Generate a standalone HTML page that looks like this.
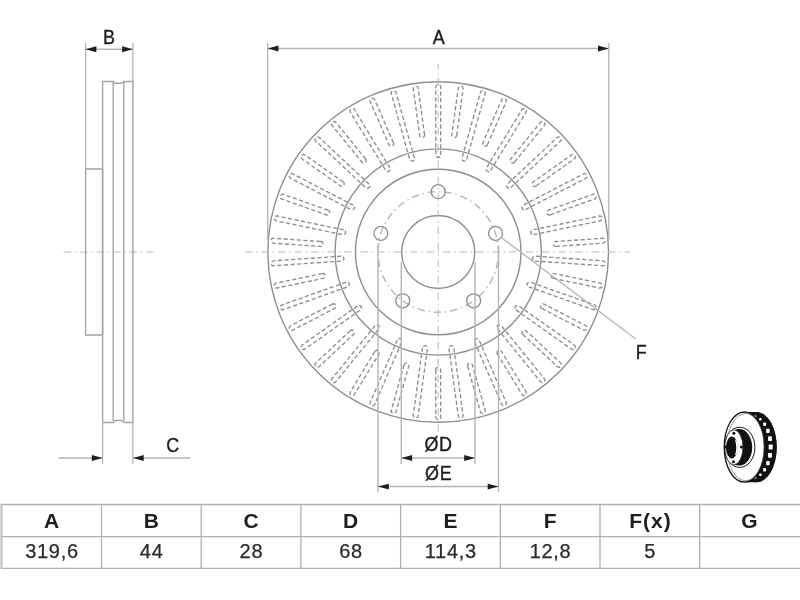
<!DOCTYPE html>
<html><head><meta charset="utf-8"><style>
html,body{margin:0;padding:0;background:#fff;width:800px;height:600px;overflow:hidden}
#w{position:absolute;left:0;top:0;width:800px;height:600px}
svg{position:absolute;left:0;top:0;will-change:transform}
svg text{font-family:"Liberation Sans",sans-serif;fill:#1e1e1e;stroke:#1e1e1e;stroke-width:0.35px}
svg text.th{font-size:21px;font-weight:bold;letter-spacing:1px;text-anchor:middle;stroke-width:0}
svg text.tv{font-size:20px;letter-spacing:0.7px;text-anchor:middle;stroke-width:0.25px;stroke:#2a2a2a;fill:#2a2a2a}
</style></head><body><div id="w">
<svg width="800" height="600" viewBox="0 0 800 600">
<path d="M440.65 155.05L440.65 86.95A2.45 2.45 0 0 0 435.75 86.95L435.75 155.05A2.45 2.45 0 0 0 440.65 155.05ZM456.69 135.48L463.1 88.82A2.45 2.45 0 0 0 458.25 88.15L451.83 134.81A2.45 2.45 0 0 0 456.69 135.48ZM466.72 159.31L485.09 93.73A2.45 2.45 0 0 0 480.37 92.41L462 157.98A2.45 2.45 0 0 0 466.72 159.31ZM487.44 144.79L506.2 101.59A2.45 2.45 0 0 0 501.71 99.64L482.94 142.84A2.45 2.45 0 0 0 487.44 144.79ZM490.67 170.44L526.05 112.25A2.45 2.45 0 0 0 521.86 109.71L486.48 167.89A2.45 2.45 0 0 0 490.67 170.44ZM514.54 162.05L544.26 125.52A2.45 2.45 0 0 0 540.46 122.42L510.74 158.96A2.45 2.45 0 0 0 514.54 162.05ZM510.73 187.62L560.5 141.14A2.45 2.45 0 0 0 557.15 137.55L507.38 184.04A2.45 2.45 0 0 0 510.73 187.62ZM535.97 185.98L574.45 158.82A2.45 2.45 0 0 0 571.63 154.82L533.15 181.98A2.45 2.45 0 0 0 535.97 185.98ZM525.41 209.57L585.87 178.24A2.45 2.45 0 0 0 583.62 173.89L523.15 205.22A2.45 2.45 0 0 0 525.41 209.57ZM550.16 214.81L594.54 199.04A2.45 2.45 0 0 0 592.9 194.42L548.52 210.19A2.45 2.45 0 0 0 550.16 214.81ZM533.62 234.67L600.3 220.82A2.45 2.45 0 0 0 599.3 216.02L532.62 229.88A2.45 2.45 0 0 0 533.62 234.67ZM556.04 246.4L603.03 243.18A2.45 2.45 0 0 0 602.7 238.29L555.71 241.51A2.45 2.45 0 0 0 556.04 246.4ZM534.76 261.06L602.7 265.71A2.45 2.45 0 0 0 603.03 260.82L535.09 256.17A2.45 2.45 0 0 0 534.76 261.06ZM553.18 278.4L599.3 287.98A2.45 2.45 0 0 0 600.3 283.18L554.18 273.6A2.45 2.45 0 0 0 553.18 278.4ZM528.73 286.78L592.9 309.58A2.45 2.45 0 0 0 594.54 304.96L530.37 282.16A2.45 2.45 0 0 0 528.73 286.78ZM541.8 308.44L583.62 330.11A2.45 2.45 0 0 0 585.87 325.76L544.05 304.09A2.45 2.45 0 0 0 541.8 308.44ZM515.99 309.91L571.63 349.18A2.45 2.45 0 0 0 574.45 345.18L518.82 305.91A2.45 2.45 0 0 0 515.99 309.91ZM522.73 334.3L557.15 366.45A2.45 2.45 0 0 0 560.5 362.86L526.07 330.72A2.45 2.45 0 0 0 522.73 334.3ZM497.48 328.75L540.46 381.58A2.45 2.45 0 0 0 544.26 378.48L501.28 325.66A2.45 2.45 0 0 0 497.48 328.75ZM497.39 354.05L521.86 394.29A2.45 2.45 0 0 0 526.05 391.75L501.58 351.51A2.45 2.45 0 0 0 497.39 354.05ZM474.58 341.9L501.71 404.36A2.45 2.45 0 0 0 506.2 402.41L479.07 339.95A2.45 2.45 0 0 0 474.58 341.9ZM467.66 366.24L480.37 411.59A2.45 2.45 0 0 0 485.09 410.27L472.38 364.92A2.45 2.45 0 0 0 467.66 366.24ZM448.97 348.38L458.25 415.85A2.45 2.45 0 0 0 463.1 415.18L453.83 347.71A2.45 2.45 0 0 0 448.97 348.38ZM435.75 369.95L435.75 417.05A2.45 2.45 0 0 0 440.65 417.05L440.65 369.95A2.45 2.45 0 0 0 435.75 369.95ZM422.57 347.71L413.3 415.18A2.45 2.45 0 0 0 418.15 415.85L427.43 348.38A2.45 2.45 0 0 0 422.57 347.71ZM404.02 364.92L391.31 410.27A2.45 2.45 0 0 0 396.03 411.59L408.74 366.24A2.45 2.45 0 0 0 404.02 364.92ZM397.33 339.95L370.2 402.41A2.45 2.45 0 0 0 374.69 404.36L401.82 341.9A2.45 2.45 0 0 0 397.33 339.95ZM374.82 351.51L350.35 391.75A2.45 2.45 0 0 0 354.54 394.29L379.01 354.05A2.45 2.45 0 0 0 374.82 351.51ZM375.12 325.66L332.14 378.48A2.45 2.45 0 0 0 335.94 381.58L378.92 328.75A2.45 2.45 0 0 0 375.12 325.66ZM350.33 330.72L315.9 362.86A2.45 2.45 0 0 0 319.25 366.45L353.67 334.3A2.45 2.45 0 0 0 350.33 330.72ZM357.58 305.91L301.95 345.18A2.45 2.45 0 0 0 304.77 349.18L360.41 309.91A2.45 2.45 0 0 0 357.58 305.91ZM332.35 304.09L290.53 325.76A2.45 2.45 0 0 0 292.78 330.11L334.6 308.44A2.45 2.45 0 0 0 332.35 304.09ZM346.03 282.16L281.86 304.96A2.45 2.45 0 0 0 283.5 309.58L347.67 286.78A2.45 2.45 0 0 0 346.03 282.16ZM322.22 273.6L276.1 283.18A2.45 2.45 0 0 0 277.1 287.98L323.22 278.4A2.45 2.45 0 0 0 322.22 273.6ZM341.31 256.17L273.37 260.82A2.45 2.45 0 0 0 273.7 265.71L341.64 261.06A2.45 2.45 0 0 0 341.31 256.17ZM320.69 241.51L273.7 238.29A2.45 2.45 0 0 0 273.37 243.18L320.36 246.4A2.45 2.45 0 0 0 320.69 241.51ZM343.78 229.88L277.1 216.02A2.45 2.45 0 0 0 276.1 220.82L342.78 234.67A2.45 2.45 0 0 0 343.78 229.88ZM327.88 210.19L283.5 194.42A2.45 2.45 0 0 0 281.86 199.04L326.24 214.81A2.45 2.45 0 0 0 327.88 210.19ZM353.25 205.22L292.78 173.89A2.45 2.45 0 0 0 290.53 178.24L350.99 209.57A2.45 2.45 0 0 0 353.25 205.22ZM343.25 181.98L304.77 154.82A2.45 2.45 0 0 0 301.95 158.82L340.43 185.98A2.45 2.45 0 0 0 343.25 181.98ZM369.02 184.04L319.25 137.55A2.45 2.45 0 0 0 315.9 141.14L365.67 187.62A2.45 2.45 0 0 0 369.02 184.04ZM365.66 158.96L335.94 122.42A2.45 2.45 0 0 0 332.14 125.52L361.86 162.05A2.45 2.45 0 0 0 365.66 158.96ZM389.92 167.89L354.54 109.71A2.45 2.45 0 0 0 350.35 112.25L385.73 170.44A2.45 2.45 0 0 0 389.92 167.89ZM393.46 142.84L374.69 99.64A2.45 2.45 0 0 0 370.2 101.59L388.96 144.79A2.45 2.45 0 0 0 393.46 142.84ZM414.4 157.98L396.03 92.41A2.45 2.45 0 0 0 391.31 93.73L409.68 159.31A2.45 2.45 0 0 0 414.4 157.98ZM424.57 134.81L418.15 88.15A2.45 2.45 0 0 0 413.3 88.82L419.71 135.48A2.45 2.45 0 0 0 424.57 134.81Z" fill="none" stroke="#8e8e8e" stroke-width="1.35" stroke-dasharray="4.2 2.4"/>
<circle cx="438.2" cy="252" r="170.3" fill="none" stroke="#8e8e8e" stroke-width="1.4"/>
<circle cx="438.2" cy="252" r="103.1" fill="none" stroke="#8e8e8e" stroke-width="1.4"/>
<circle cx="438.2" cy="252" r="82.8" fill="none" stroke="#8e8e8e" stroke-width="1.4"/>
<circle cx="438.2" cy="252" r="36.5" fill="none" stroke="#8e8e8e" stroke-width="1.4"/>
<circle cx="438.2" cy="252" r="60.3" fill="none" stroke="#b8b8b8" stroke-width="1.5" stroke-dasharray="7.5 3.75 1.5 3.75" stroke-dashoffset="7.3"/>
<circle cx="438.2" cy="191.7" r="7" fill="none" stroke="#8e8e8e" stroke-width="1.3"/>
<circle cx="495.55" cy="233.37" r="7" fill="none" stroke="#8e8e8e" stroke-width="1.3"/>
<circle cx="473.64" cy="300.78" r="7" fill="none" stroke="#8e8e8e" stroke-width="1.3"/>
<circle cx="402.76" cy="300.78" r="7" fill="none" stroke="#8e8e8e" stroke-width="1.3"/>
<circle cx="380.85" cy="233.37" r="7" fill="none" stroke="#8e8e8e" stroke-width="1.3"/>
<path d="M438.2 432V64M245 251.9H630" stroke="#b8b8b8" stroke-width="1" stroke-dasharray="7.5 3.75 1.5 3.75"/>
<path d="M63.5 252.1H155" stroke="#b8b8b8" stroke-width="1" stroke-dasharray="7.5 3.75 1.5 3.75"/>
<path d="M85.6 43V169" fill="none" stroke="#b4b4b4" stroke-width="1.3"/>
<path d="M85.6 169V335H102.6M85.6 169H102.6V335" fill="none" stroke="#a4a4a4" stroke-width="1.4"/>
<path d="M102.6 422.5V81.5H113.2L115.5 83.3H121.5L123.8 81.5H132.9V422.5" fill="none" stroke="#a4a4a4" stroke-width="1.4"/>
<path d="M102.6 422.5V464M132.9 422.5V464" fill="none" stroke="#b4b4b4" stroke-width="1.3"/>
<path d="M102.6 422.5H113.2L115.5 420.5H121.5L123.8 422.5H132.9" fill="none" stroke="#a4a4a4" stroke-width="1.4"/>
<path d="M113.2 82V421M123.8 82V421" fill="none" stroke="#a4a4a4" stroke-width="1.4"/>
<path d="M132.9 43V81.5" fill="none" stroke="#b4b4b4" stroke-width="1.3"/>
<path d="M85.6 49.2H132.9" stroke="#b4b4b4" stroke-width="1.5"/>
<path d="M85.60 49.20L96.40 52.15L96.40 46.25Z" fill="#1e1e1e"/>
<path d="M132.90 49.20L122.10 46.25L122.10 52.15Z" fill="#1e1e1e"/>
<path d="M58.5 458H102.6M132.9 458H190" stroke="#b4b4b4" stroke-width="1.5"/>
<path d="M102.60 458.00L91.80 455.05L91.80 460.95Z" fill="#1e1e1e"/>
<path d="M132.90 458.00L143.70 460.95L143.70 455.05Z" fill="#1e1e1e"/>
<path d="M267.7 43V240M608.8 43V240" stroke="#b4b4b4" stroke-width="1.3"/>
<path d="M267.7 48.5H608.8" stroke="#b4b4b4" stroke-width="1.5"/>
<path d="M267.70 48.50L278.50 51.45L278.50 45.55Z" fill="#1e1e1e"/>
<path d="M608.80 48.50L598.00 45.55L598.00 51.45Z" fill="#1e1e1e"/>
<path d="M401.3 262V464M475 262V464" stroke="#b4b4b4" stroke-width="1.4"/>
<path d="M401.3 458H475" stroke="#b4b4b4" stroke-width="1.5"/>
<path d="M401.30 458.00L412.10 460.95L412.10 455.05Z" fill="#1e1e1e"/>
<path d="M475.00 458.00L464.20 455.05L464.20 460.95Z" fill="#1e1e1e"/>
<path d="M378 245.5V492M498.5 245.5V492" stroke="#b4b4b4" stroke-width="1.4"/>
<path d="M378 486.6H498.5" stroke="#b4b4b4" stroke-width="1.5"/>
<path d="M378.00 486.60L388.80 489.55L388.80 483.65Z" fill="#1e1e1e"/>
<path d="M498.50 486.60L487.70 483.65L487.70 489.55Z" fill="#1e1e1e"/>
<path d="M501 237.3L635.8 339" stroke="#b4b4b4" stroke-width="1.3"/>

<text transform="translate(109.1 43.5) scale(0.97 1.08)" font-size="18.5" text-anchor="middle">B</text>
<text transform="translate(172.6 452.2) scale(0.97 1.08)" font-size="18.5" text-anchor="middle">C</text>
<text transform="translate(438.7 43.8) scale(0.97 1.08)" font-size="18.5" text-anchor="middle">A</text>
<text transform="translate(641.3 358.8) scale(0.97 1.08)" font-size="18.5" text-anchor="middle">F</text>
<text transform="translate(438.6 451.0) scale(0.97 1.08)" font-size="18.5" text-anchor="middle" letter-spacing="0.8">ØD</text>
<text transform="translate(438.7 479.8) scale(0.97 1.08)" font-size="18.5" text-anchor="middle" letter-spacing="0.8">ØE</text>

<g>
<path d="M744.4 412H756.5A20.2 35.1 0 0 1 756.5 482.2H744.4Z" fill="#111"/>
<ellipse cx="756.5" cy="447.1" rx="20.2" ry="35.1" fill="#111"/>
<rect x="754.19" y="415.42" width="2.40" height="1.44" rx="0.7" fill="#fff"/>
<rect x="759.15" y="418.07" width="2.40" height="2.34" rx="0.7" fill="#fff"/>
<rect x="763.23" y="422.60" width="2.80" height="3.36" rx="0.7" fill="#fff"/>
<rect x="766.20" y="428.84" width="3.45" height="4.14" rx="0.7" fill="#fff"/>
<rect x="768.06" y="436.35" width="3.86" height="4.63" rx="0.7" fill="#fff"/>
<rect x="768.70" y="444.60" width="4.00" height="4.80" rx="0.7" fill="#fff"/>
<rect x="768.06" y="453.02" width="3.86" height="4.63" rx="0.7" fill="#fff"/>
<rect x="766.20" y="461.02" width="3.45" height="4.14" rx="0.7" fill="#fff"/>
<rect x="763.23" y="468.04" width="2.80" height="3.36" rx="0.7" fill="#fff"/>
<rect x="759.15" y="473.59" width="2.40" height="2.34" rx="0.7" fill="#fff"/>
<rect x="754.19" y="477.14" width="2.40" height="1.44" rx="0.7" fill="#fff"/>
<ellipse cx="744.4" cy="447.1" rx="20.2" ry="35.1" fill="#fff" stroke="#111" stroke-width="1.3"/>
<ellipse cx="745.5" cy="447.1" rx="18.6" ry="33.6" fill="none" stroke="#444" stroke-width="0.6"/>
<ellipse cx="739.7" cy="447.3" rx="15.2" ry="20.1" fill="#fff" stroke="#111" stroke-width="1"/>
<ellipse cx="739.2" cy="447.3" rx="13" ry="18.2" fill="#111"/>
<ellipse cx="733.9" cy="447.3" rx="9" ry="17.4" fill="#fff" stroke="#111" stroke-width="0.6"/>
<ellipse cx="731.8" cy="447.5" rx="5.8" ry="10.9" fill="#111"/>
<ellipse cx="735.2" cy="447.5" rx="2.6" ry="7.5" fill="#fff"/>
<ellipse cx="733.6" cy="447.5" rx="2.6" ry="8.5" fill="#111"/>
<circle cx="733.9" cy="433.3" r="1.5" fill="#111"/>
<circle cx="741.4" cy="447.1" r="1.5" fill="#111"/>
<circle cx="733.5" cy="461.7" r="1.5" fill="#111"/>
<circle cx="726" cy="447.1" r="1.5" fill="#111"/>
</g>
<path d="M0.8 504.5H800M0.8 536.7H800M0.8 568.3H800" stroke="#b0b0b0" stroke-width="1.3"/>
<path d="M1.5 503.9V569" stroke="#c0c0c0" stroke-width="2.1"/>
<path d="M101.5 504V569M201.2 504V569M300.9 504V569M400.6 504V569M500.3 504V569M600.0 504V569M699.7 504V569" stroke="#b0b0b0" stroke-width="1.3"/>
<text class="th" x="52.1" y="527.8">A</text>
<text class="tv" x="52.0" y="558">319,6</text>
<text class="th" x="151.9" y="527.8">B</text>
<text class="tv" x="151.7" y="558">44</text>
<text class="th" x="251.6" y="527.8">C</text>
<text class="tv" x="251.4" y="558">28</text>
<text class="th" x="351.2" y="527.8">D</text>
<text class="tv" x="351.1" y="558">68</text>
<text class="th" x="451.0" y="527.8">E</text>
<text class="tv" x="450.8" y="558">114,3</text>
<text class="th" x="550.6" y="527.8">F</text>
<text class="tv" x="550.5" y="558">12,8</text>
<text class="th" x="650.4" y="527.8" letter-spacing="1.8">F(x)</text>
<text class="tv" x="650.2" y="558">5</text>
<text class="th" x="750.0" y="527.8">G</text>
</svg>
</div>
</body></html>
